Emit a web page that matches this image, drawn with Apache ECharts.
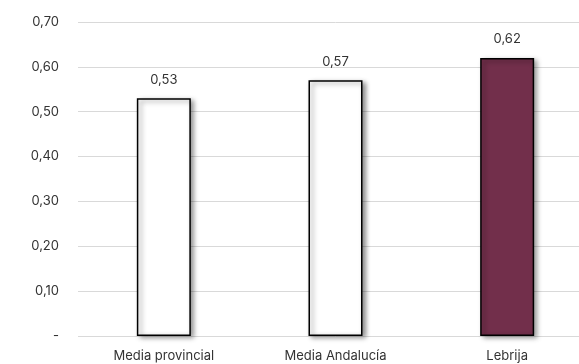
<!DOCTYPE html>
<html>
<head>
<meta charset="utf-8">
<script src="https://cdn.jsdelivr.net/npm/echarts@6/dist/echarts.min.js"></script>
<style>
  html, body { margin: 0; padding: 0; background: #fff; overflow: hidden; width: 579px; height: 364px; }
  /* plot extends a little past the right edge so gridlines run to the border */
  #chart { width: 593px; height: 364px; }
</style>
</head>
<body>
<div id="chart"></div>
<script>
// Categories and values
const categories = ['Media provincial', 'Media Andalucía', 'Lebrija'];
const values = [0.53, 0.57, 0.62];
const barColors = ['#ffffff', '#ffffff', '#722f4b'];

const FONT = 'Inter';
const FS = 13;
const fmt = v => v.toFixed(2).replace('.', ',');

const chart = echarts.init(document.getElementById('chart'));
chart.setOption({
  animation: false,
  textStyle: { fontFamily: FONT, color: '#333' },
  grid: { left: 78, right: 0, top: 22, bottom: 28 },
  xAxis: {
    type: 'category',
    data: categories,
    axisLine: { show: false },
    axisTick: { show: false },
    axisLabel: { color: '#333', fontSize: FS, margin: 14, fontFamily: FONT }
  },
  yAxis: {
    type: 'value',
    min: 0,
    max: 0.7,
    interval: 0.1,
    axisLine: { show: false },
    axisTick: { show: false },
    splitLine: { lineStyle: { color: '#d9d9d9', width: 1 } },
    axisLabel: {
      color: '#333',
      fontSize: FS,
      margin: 19,
      fontFamily: FONT,
      formatter: v => (v === 0 ? '-' : fmt(v))
    }
  },
  series: [{
    type: 'bar',
    barWidth: 54,
    data: values.map((v, i) => ({
      value: v,
      itemStyle: { color: barColors[i] }
    })),
    itemStyle: {
      borderColor: '#000',
      borderWidth: 1.5,
      shadowColor: 'rgba(0,0,0,0.45)',
      shadowBlur: 5,
      shadowOffsetX: 3,
      shadowOffsetY: 2
    },
    label: {
      show: true,
      position: 'top',
      distance: 12,
      color: '#333',
      fontSize: FS,
      fontFamily: FONT,
      formatter: p => fmt(p.value)
    }
  }]
});
</script>
</body>
</html>
